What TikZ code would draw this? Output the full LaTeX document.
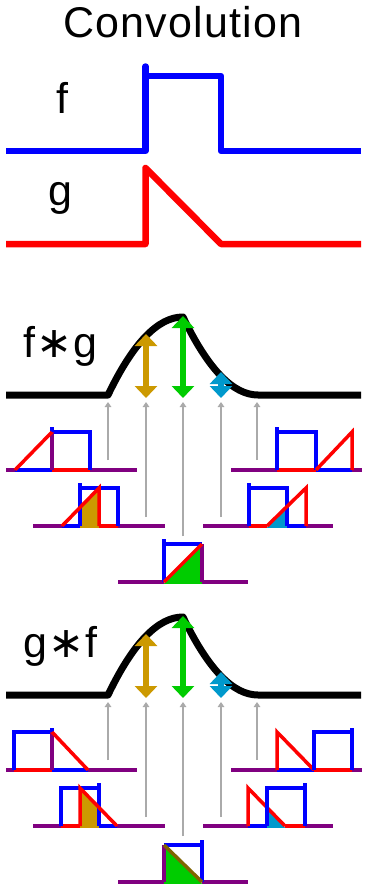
\documentclass[tikz,border=0pt]{standalone}
\usepackage{fontspec}
\setmainfont{Liberation Sans}
\newfontfamily\symfont{DejaVu Sans}
\usetikzlibrary{arrows.meta}
\definecolor{fblue}{RGB}{0,0,255}
\definecolor{gred}{RGB}{255,0,0}
\definecolor{mixc}{RGB}{128,0,128}
\definecolor{goldc}{RGB}{204,153,0}
\definecolor{greenc}{RGB}{0,204,0}
\definecolor{cyanc}{RGB}{0,153,204}
\definecolor{grayc}{RGB}{170,170,170}
\definecolor{brownc}{RGB}{128,100,0}
\tikzset{
  bigline/.style={line width=6.5pt, line join=round},
  curve/.style={line width=7pt, line join=round, black},
  mini/.style={line width=3.5pt},
  graya/.style={draw=grayc, line width=1.8pt, -{Triangle[width=6.5pt,length=5pt]}},
  meas/.style={line width=6pt, {Triangle[width=22pt,length=12pt]}-{Triangle[width=22pt,length=12pt]}},
  lbl/.style={font=\fontsize{43}{50}\selectfont, inner sep=0pt, anchor=base}
}
\begin{document}
\begin{tikzpicture}[x=1pt,y=-1pt]
\useasboundingbox (0,0) rectangle (378,889);
\fill[white] (0,0) rectangle (378,889);

% title and labels
\node[lbl] (title) at (183,37) {\addfontfeatures{LetterSpace=3.0}Convolution};
\node[lbl] (lf) at (62,113) {f};
\node[lbl] (lg) at (60,205) {g};
\node[lbl, anchor=base west] (lfg) at (23,357) {f\kern1pt{\symfont ∗}\kern1pt g};
\node[lbl, anchor=base west] (lgf) at (23,657) {g\kern1pt{\symfont ∗}\kern1pt f};

% f and g
\draw[bigline, fblue] (6,151) -- (145.5,151) -- (145.5,76) -- (221,76) -- (221,151) -- (361,151);
\draw[bigline, fblue, line cap=round] (145.5,76) -- (145.5,66.5);
\draw[bigline, gred] (6,244) -- (145.5,244) -- (145.5,168) -- (221,244) -- (361,244);

% ===== f*g =====
\draw[curve] (6,395) -- (108,395) .. controls (133,343) and (158,317) .. (183,317)
  .. controls (208,369) and (233,395) .. (258,395) -- (361,395);
\coordinate (a1t) at (146,334); \coordinate (a1b) at (146,398);
\coordinate (a2t) at (183,316); \coordinate (a2b) at (183,398);
\coordinate (a3t) at (221,372); \coordinate (a3b) at (221,398);
\draw[meas, goldc] (a1t) -- (a1b);
\draw[meas, greenc] (a2t) -- (a2b);
\draw[meas, cyanc] (a3t) -- (a3b);
\foreach \x/\yb [count=\i] in {108/460,146/517,183/536,221/517,257/460}{
  \coordinate (p\i) at (\x,\yb); \coordinate (q\i) at (\x,402);
  \draw[graya] (p\i) -- (q\i);
}

% plot A
\draw[mini, mixc] (6,470) -- (15,470) (90,470) -- (137,470);
\draw[mini, fblue] (15,470) -- (52,470);
\draw[mini, gred] (52,470) -- (90,470);
\draw[mini, fblue] (52,470) -- (52,427) (52,432) -- (90,432) -- (90,470);
\draw[mini, mixc] (52,432) -- (52,470);
\draw[mini, gred] (15,470) -- (52,432);
% plot B
\fill[goldc] (80,527.75) -- (80,507.5) -- (99,488) -- (99,527.75) -- cycle;
\draw[mini, mixc] (33,526) -- (62,526) (118,526) -- (165,526);
\draw[mini, fblue] (62,526) -- (80,526);
\draw[mini, gred] (99,526) -- (118,526);
\draw[mini, fblue] (80,526) -- (80,483) (80,488) -- (118,488) -- (118,526);
\draw[mini, gred] (62,526) -- (99,488) -- (99,526);
% plot C
\fill[greenc] (164,583.75) -- (202,544) -- (202,583.75) -- cycle;
\draw[mini, mixc] (118,582) -- (164,582) (202,582) -- (248,582);
\draw[mini, fblue] (164,582) -- (164,539) (164,544) -- (202,544);
\draw[mini, mixc] (202,544) -- (202,582);
\draw[mini, gred] (164,582) -- (202,544);
% plot D
\draw[mini, mixc] (231,470) -- (277,470) (352,470) -- (362,470);
\draw[mini, gred] (277,470) -- (316,470);
\draw[mini, fblue] (316,470) -- (352,470);
\draw[mini, fblue] (277,470) -- (277,427) (277,432) -- (316,432) -- (316,470);
\draw[mini, gred] (316,470) -- (352,432) -- (352,470);
% plot E
\fill[cyanc] (267,527.75) -- (287,506.5) -- (287,527.75) -- cycle;
\draw[mini, mixc] (203,526) -- (249,526) (306,526) -- (333,526);
\draw[mini, gred] (249,526) -- (267,526);
\draw[mini, fblue] (287,526) -- (306,526);
\draw[mini, fblue] (249,526) -- (249,483) (249,488) -- (287,488) -- (287,526);
\draw[mini, gred] (267,526) -- (306,488) -- (306,526);

% ===== g*f =====
\draw[curve] (6,695) -- (108,695) .. controls (133,643) and (158,617) .. (183,617)
  .. controls (208,669) and (233,695) .. (258,695) -- (361,695);
\coordinate (b1t) at (146,634); \coordinate (b1b) at (146,698);
\coordinate (b2t) at (183,616); \coordinate (b2b) at (183,698);
\coordinate (b3t) at (221,672); \coordinate (b3b) at (221,698);
\draw[meas, goldc] (b1t) -- (b1b);
\draw[meas, greenc] (b2t) -- (b2b);
\draw[meas, cyanc] (b3t) -- (b3b);
\foreach \x/\yb [count=\i] in {108/760,146/817,183/836,221/817,257/760}{
  \coordinate (r\i) at (\x,\yb); \coordinate (s\i) at (\x,702);
  \draw[graya] (r\i) -- (s\i);
}

% plot A'
\draw[mini, mixc] (6,770) -- (14,770) (88,770) -- (137,770);
\draw[mini, gred] (14,770) -- (52,770);
\draw[mini, fblue] (52,770) -- (88,770);
\draw[mini, fblue] (14,770) -- (14,732) -- (52,732) (52,728) -- (52,733);
\draw[mini, mixc] (52,732) -- (52,770);
\draw[mini, gred] (52,732) -- (88,770);
% plot B'
\fill[goldc] (80,827.75) -- (80,788) -- (99,807.5) -- (99,827.75) -- cycle;
\draw[mini, mixc] (33,826) -- (61,826) (117,826) -- (165,826);
\draw[mini, gred] (61,826) -- (80,826);
\draw[mini, fblue] (99,826) -- (117,826);
\draw[mini, fblue] (61,826) -- (61,788) -- (99,788) (99,783) -- (99,826);
\draw[mini, gred] (80,826) -- (80,788) -- (117,826);
% plot C'
\fill[greenc] (164,845) -- (164,883.75) -- (202,883.75) -- cycle;
\draw[mini, mixc] (118,882) -- (164,882) (202,882) -- (248,882);
\draw[mini, fblue] (164,845) -- (202,845) (202,840) -- (202,882);
\draw[mini, mixc] (164,882) -- (164,845);
\draw[mini, brownc] (164,845) -- (202,882);
% plot D'
\draw[mini, mixc] (231,770) -- (277,770) (352,770) -- (362,770);
\draw[mini, fblue] (277,770) -- (314,770);
\draw[mini, gred] (314,770) -- (352,770);
\draw[mini, gred] (277,770) -- (277,732) -- (314,770);
\draw[mini, fblue] (314,770) -- (314,732) -- (352,732) (352,728) -- (352,770);
% plot E'
\fill[cyanc] (267,807.5) -- (267,827.75) -- (285,827.75) -- cycle;
\draw[mini, mixc] (203,826) -- (248,826) (305,826) -- (333,826);
\draw[mini, fblue] (248,826) -- (267,826);
\draw[mini, gred] (285,826) -- (305,826);
\draw[mini, gred] (248,826) -- (248,788) -- (285,826);
\draw[mini, fblue] (267,826) -- (267,788) -- (305,788) (305,783) -- (305,826);
\end{tikzpicture}
\end{document}
